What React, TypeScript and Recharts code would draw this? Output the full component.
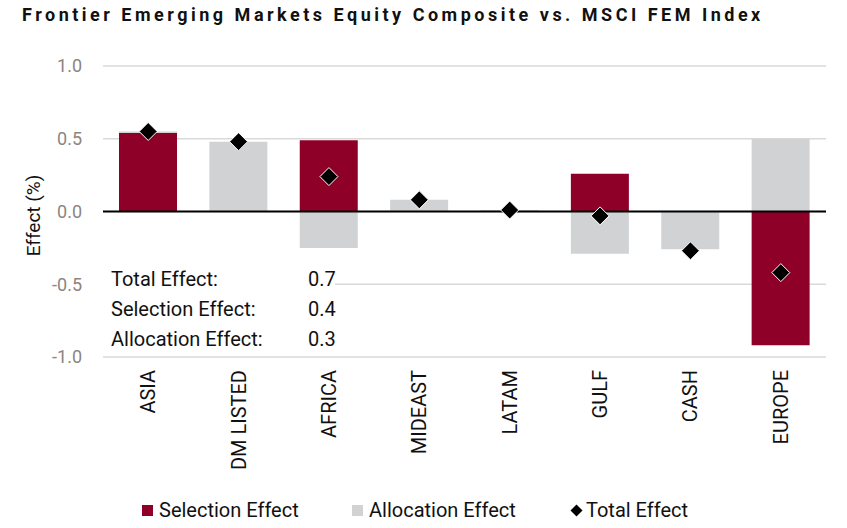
import React from 'react'
import {
  ComposedChart, Bar, Line, XAxis, YAxis, CartesianGrid, ReferenceLine,
} from 'recharts'

const categories = ['ASIA', 'DM LISTED', 'AFRICA', 'MIDEAST', 'LATAM', 'GULF', 'CASH', 'EUROPE']
const selectionEffect = [0.54, 0, 0.49, 0, 0, 0.26, 0, -0.92]
const allocationEffect = [0.01, 0.48, -0.25, 0.08, 0.01, -0.29, -0.26, 0.50]
const totalEffect = [0.55, 0.48, 0.24, 0.08, 0.01, -0.03, -0.27, -0.42]
const yTicks = [-1, -0.5, 0, 0.5, 1]

const summaryLabels = ['Total Effect:', 'Selection Effect:', 'Allocation Effect:']
const summaryValues = ['0.7', '0.4', '0.3']

const RED = '#8f0029'
const GREY = '#d1d2d4'
const FONT = 'Roboto, "Noto Sans", sans-serif'

const data = categories.map((name, i) => ({
  name,
  selection: selectionEffect[i],
  allocation: allocationEffect[i],
  total: totalEffect[i],
}))

// eslint-disable-next-line @typescript-eslint/no-explicit-any
function Diamond({ cx, cy }: any) {
  if (cx == null || cy == null) return null
  const r = 9
  return (
    <path
      d={`M${cx},${cy - r} L${cx + r},${cy} L${cx},${cy + r} L${cx - r},${cy} Z`}
      fill="#000"
      stroke="#fff"
      strokeWidth={1}
    />
  )
}

// eslint-disable-next-line @typescript-eslint/no-explicit-any
function CategoryTick({ x, y, payload }: any) {
  return (
    <text
      x={0}
      y={0}
      transform={`translate(${x},${y + 5}) rotate(-90)`}
      textAnchor="end"
      dominantBaseline="central"
      fontSize={20}
      fontFamily={FONT}
      fill="#111"
    >
      {payload.value}
    </text>
  )
}

export default function App() {
  return (
    <div style={{ position: 'absolute', left: 0, top: 0, width: 847, height: 528, background: '#fff', fontFamily: FONT }}>
      <div style={{
        position: 'absolute', left: 22, top: 4, fontSize: 18, fontWeight: 700,
        letterSpacing: 3.5, color: '#111', whiteSpace: 'nowrap',
      }}>
        Frontier Emerging Markets Equity Composite vs. MSCI FEM Index
      </div>

      <ComposedChart
        width={847}
        height={528}
        data={data}
        stackOffset="sign"
        margin={{ top: 66, right: 21, bottom: 0, left: 0 }}
      >
        <CartesianGrid vertical={false} stroke="#d9d9d9" strokeWidth={1.5} />
        <XAxis
          dataKey="name"
          height={171}
          axisLine={false}
          tickLine={false}
          interval={0}
          tick={<CategoryTick />}
        />
        <YAxis
          width={103}
          domain={[-1, 1]}
          ticks={yTicks}
          tickFormatter={(v: number) => v.toFixed(1)}
          axisLine={false}
          tickLine={false}
          tickSize={0}
          tickMargin={21}
          tick={{ fontSize: 18, fill: '#8c8580', fontFamily: FONT }}
          label={{
            value: 'Effect (%)', angle: -90, position: 'insideLeft', dx: 28, dy: 4,
            style: { fontSize: 19, fill: '#111', fontFamily: FONT, textAnchor: 'middle' },
          }}
        />
        <Bar dataKey="selection" stackId="a" fill={RED} barSize={58} isAnimationActive={false} />
        <Bar dataKey="allocation" stackId="a" fill={GREY} barSize={58} isAnimationActive={false} />
        <ReferenceLine y={0} stroke="#000" strokeWidth={2} />
        <Line
          dataKey="total"
          stroke="none"
          dot={<Diamond />}
          activeDot={false}
          isAnimationActive={false}
        />
      </ComposedChart>

      <div style={{
        position: 'absolute', left: 103, top: 265, width: 232, height: 90, background: '#fff',
      }}>
        {summaryLabels.map((label, i) => (
          <div key={label} style={{ position: 'absolute', top: 2 + i * 30, left: 8, fontSize: 20, color: '#111', whiteSpace: 'nowrap', lineHeight: '24px' }}>
            {label}
          </div>
        ))}
        {summaryValues.map((v, i) => (
          <div key={i} style={{ position: 'absolute', top: 2 + i * 30, left: 205, fontSize: 20, color: '#111', lineHeight: '24px' }}>
            {v}
          </div>
        ))}
      </div>

      <div style={{ position: 'absolute', top: 498, left: 0, width: 847, height: 24, fontSize: 20, color: '#111' }}>
        <span style={{ position: 'absolute', left: 142, top: 7, width: 11, height: 11, background: RED }} />
        <span style={{ position: 'absolute', left: 159, top: 0, lineHeight: '24px', whiteSpace: 'nowrap' }}>Selection Effect</span>
        <span style={{ position: 'absolute', left: 352, top: 7, width: 11, height: 11, background: GREY }} />
        <span style={{ position: 'absolute', left: 369, top: 0, lineHeight: '24px', whiteSpace: 'nowrap' }}>Allocation Effect</span>
        <svg style={{ position: 'absolute', left: 570, top: 6 }} width={13} height={13}>
          <path d="M6.5,0.5 L12.5,6.5 L6.5,12.5 L0.5,6.5 Z" fill="#000" />
        </svg>
        <span style={{ position: 'absolute', left: 586, top: 0, lineHeight: '24px', whiteSpace: 'nowrap' }}>Total Effect</span>
      </div>
    </div>
  )
}
